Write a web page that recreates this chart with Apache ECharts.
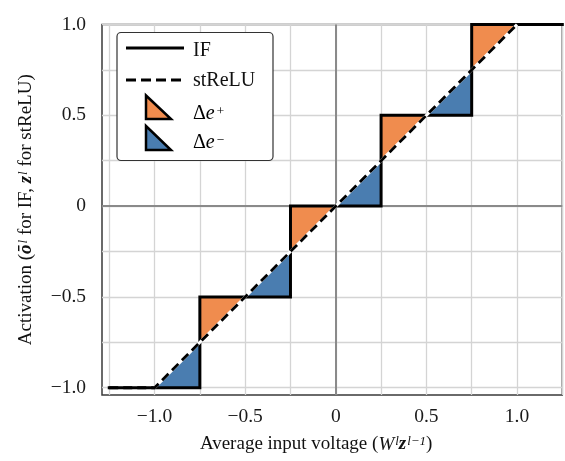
<!DOCTYPE html>
<html><head><meta charset="utf-8">
<script src="https://cdn.jsdelivr.net/npm/echarts@6/dist/echarts.min.js"></script>
<style>html,body{margin:0;padding:0;background:#fff}#c{width:565px;height:461px}</style>
</head><body><div id="c"></div>
<script>
// ---- data ----
const ifX = [-1.25, -0.75, -0.75, -0.25, -0.25, 0.25, 0.25, 0.75, 0.75, 1.25];
const ifY = [-1, -1, -0.5, -0.5, 0, 0, 0.5, 0.5, 1, 1];
const strX = [-1.25, -1, 1, 1.25];
const strY = [-1, -1, 1, 1];
const ePlusTri = [
  [[-0.75, -0.75], [-0.75, -0.5], [-0.5, -0.5]],
  [[-0.25, -0.25], [-0.25, 0], [0, 0]],
  [[0.25, 0.25], [0.25, 0.5], [0.5, 0.5]],
  [[0.75, 0.75], [0.75, 1], [1, 1]]
];
const eMinusTri = [
  [[-1, -1], [-0.75, -0.75], [-0.75, -1]],
  [[-0.5, -0.5], [-0.25, -0.25], [-0.25, -0.5]],
  [[0, 0], [0.25, 0.25], [0.25, 0]],
  [[0.5, 0.5], [0.75, 0.75], [0.75, 0.5]]
];
const xGridTicks = [-1.25, -1, -0.75, -0.5, -0.25, 0, 0.25, 0.5, 0.75, 1, 1.25];
const yGridTicks = [-1, -0.75, -0.5, -0.25, 0, 0.25, 0.5, 0.75, 1];
const labelTicks = [-1, -0.5, 0, 0.5, 1];

// ---- style ----
const FONT = '"Liberation Serif", "DejaVu Serif", serif';
const ORANGE = '#F08C4E';
const BLUE = '#4A7DB0';
const fmt = v => v === 0 ? '0' : (v < 0 ? '\u2212' : '') + Math.abs(v).toFixed(1);
function makeRich(size, supSize) {
  return {
    n: {fontFamily: FONT, fontSize: size, color: '#111'},
    i: {fontFamily: FONT, fontSize: size, fontStyle: 'italic', color: '#111'},
    bi: {fontFamily: FONT, fontSize: size, fontStyle: 'italic', fontWeight: 'bold', color: '#111'},
    sup: {fontFamily: FONT, fontSize: supSize, fontStyle: 'italic', color: '#111', verticalAlign: 'top', padding: [0, 0, 0, 1]}
  };
}
const axisRich = makeRich(19, 13);
const legendRich = makeRich(20, 13.5);

const pairs = (xs, ys) => xs.map((x, i) => [x, ys[i]]);

function triSeries(name, tris, color) {
  return {
    type: 'custom', name, z: 3, silent: true,
    data: tris.map(t => t.flat()),
    encode: {x: [0, 2, 4], y: [1, 3, 5]},
    renderItem: (params, api) => {
      const pts = [0, 1, 2].map(k => api.coord([api.value(2 * k), api.value(2 * k + 1)]));
      return {type: 'polygon', shape: {points: pts}, style: {fill: color, stroke: null}};
    }
  };
}

const chart = echarts.init(document.getElementById('c'), null, {renderer: 'canvas'});
chart.setOption({
  animation: false,
  backgroundColor: '#fff',
  grid: {left: 102, right: 2.7, top: 24.5, bottom: 66, show: true, borderColor: '#3a3a3a', borderWidth: 1.5, backgroundColor: 'transparent', z: 0},
  xAxis: {
    type: 'value', min: -1.29, max: 1.25,
    axisLine: {show: false}, axisTick: {show: false}, splitLine: {show: false},
    axisLabel: {customValues: labelTicks, formatter: fmt, fontFamily: FONT, fontSize: 19.5, color: '#1a1a1a', margin: 12},
    name: '{n|Average input voltage (}{i|W}{sup|l}{bi|z}{sup|l\u22121}{n|)}',
    nameLocation: 'middle', nameGap: 40, nameMoveOverlap: false,
    nameTextStyle: {rich: axisRich, padding: [0, 32, 0, 0]}
  },
  yAxis: {
    type: 'value', min: -1.04, max: 1.0,
    axisLine: {show: false}, axisTick: {show: false}, splitLine: {show: false},
    axisLabel: {customValues: labelTicks, formatter: fmt, fontFamily: FONT, fontSize: 19.5, color: '#1a1a1a', margin: 16},
    name: '{n|Activation (}{bi|\u014D}{sup|l}{n| for IF, }{bi|z}{sup|l}{n| for stReLU)}',
    nameLocation: 'middle', nameGap: 66, nameRotate: 90, nameMoveOverlap: false,
    nameTextStyle: {rich: axisRich}
  },
  series: [
    {type: 'line', name: 'grid', data: [], z: 1, silent: true,
      markLine: {silent: true, z: 1, symbol: 'none', animation: false, label: {show: false},
        lineStyle: {color: '#d4d4d4', width: 1.3, type: 'solid'},
        data: [...xGridTicks.map(v => ({xAxis: v})), ...yGridTicks.map(v => ({yAxis: v}))]}},
    {type: 'line', name: 'zero', data: [], z: 2, silent: true,
      markLine: {silent: true, z: 2, symbol: 'none', animation: false, label: {show: false},
        lineStyle: {color: '#8a8a8a', width: 2, type: 'solid'},
        data: [{xAxis: 0}, {yAxis: 0}]}},
    triSeries('\u0394e+', ePlusTri, ORANGE),
    triSeries('\u0394e\u2212', eMinusTri, BLUE),
    {type: 'line', name: 'IF', data: pairs(ifX, ifY), z: 4, showSymbol: false, silent: true,
      lineStyle: {color: '#000', width: 3, join: 'miter', cap: 'square'}},
    {type: 'line', name: 'stReLU-bg', data: pairs(strX, strY).slice(1, 3), z: 5, showSymbol: false, silent: true,
      lineStyle: {color: '#fff', width: 3}},
    {type: 'line', name: 'stReLU', data: pairs(strX, strY), z: 6, showSymbol: false, silent: true,
      lineStyle: {color: '#000', width: 2.8, type: [9, 5]}}
  ],
  graphic: [
    {type: 'rect', z: 100, shape: {x: 117, y: 32.5, width: 156, height: 128, r: 4},
      style: {fill: '#fff', stroke: '#333', lineWidth: 1.2}},
    {type: 'line', z: 101, shape: {x1: 126, y1: 48, x2: 184, y2: 48}, style: {stroke: '#000', lineWidth: 3}},
    {type: 'line', z: 101, shape: {x1: 126, y1: 80, x2: 184, y2: 80}, style: {stroke: '#000', lineWidth: 3, lineDash: [10, 5]}},
    {type: 'polygon', z: 101, shape: {points: [[146, 95.5], [146, 119], [171, 119]]},
      style: {fill: ORANGE, stroke: '#000', lineWidth: 2.5, lineJoin: 'miter'}},
    {type: 'polygon', z: 101, shape: {points: [[146, 126], [146, 150], [171, 150]]},
      style: {fill: BLUE, stroke: '#000', lineWidth: 2.5, lineJoin: 'miter'}},
    {type: 'text', z: 102, x: 193, y: 51, style: {text: 'IF', font: '20px ' + FONT, fill: '#111', verticalAlign: 'middle'}},
    {type: 'text', z: 102, x: 193, y: 81, style: {text: 'stReLU', font: '20px ' + FONT, fill: '#111', verticalAlign: 'middle'}},
    {type: 'text', z: 102, x: 193, y: 114, style: {text: '{n|\u0394}{i|e}{sup|+}', rich: legendRich, verticalAlign: 'middle'}},
    {type: 'text', z: 102, x: 193, y: 143, style: {text: '{n|\u0394}{i|e}{sup|\u2212}', rich: legendRich, verticalAlign: 'middle'}}
  ]
});
</script>
</body></html>
